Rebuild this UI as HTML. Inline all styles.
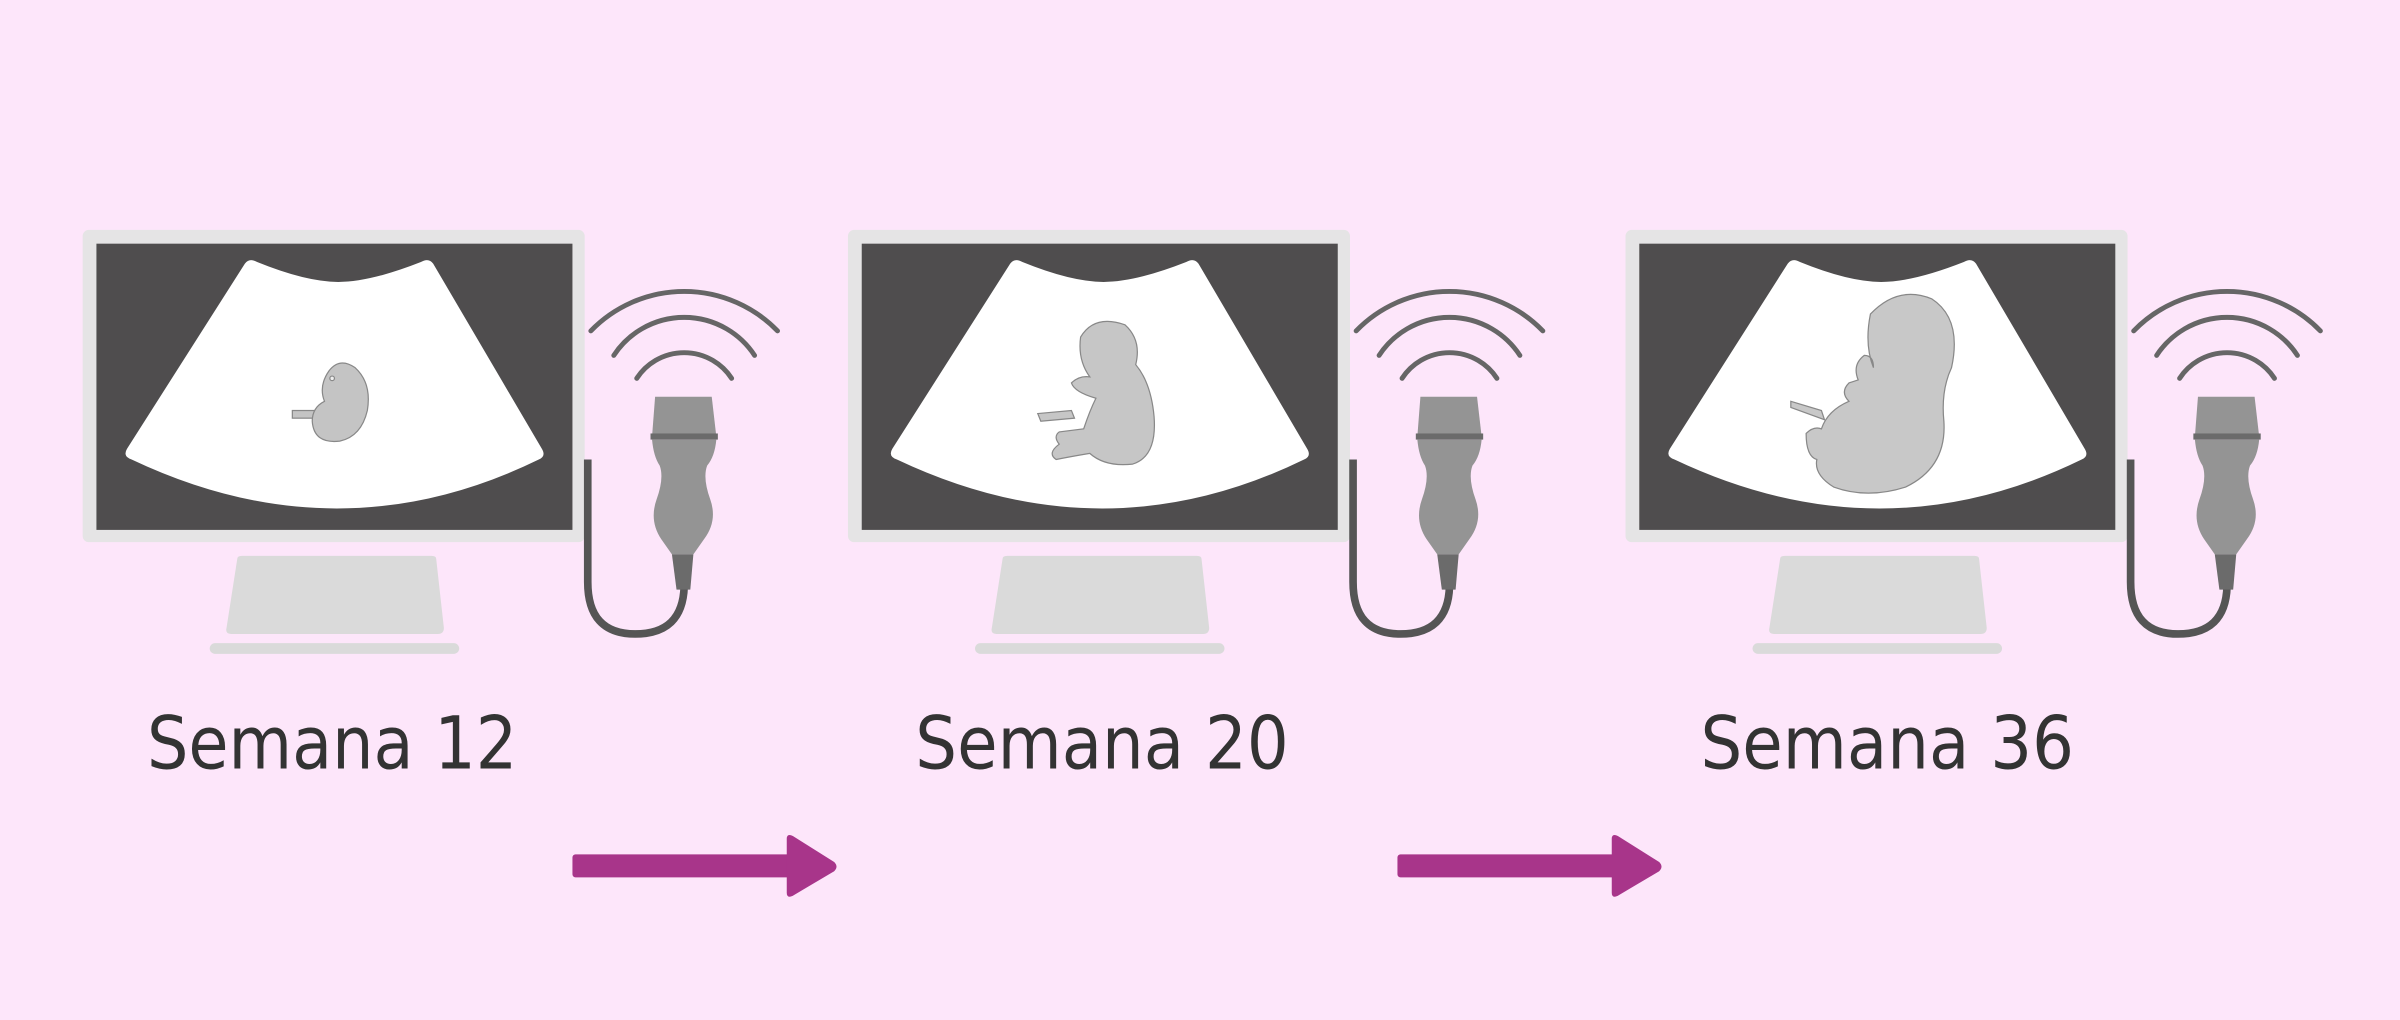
<!DOCTYPE html>
<html><head><meta charset="utf-8"><style>
html,body{margin:0;padding:0;background:#fde6fa;}
svg{display:block}
</style></head><body>
<svg width="2400" height="1020" viewBox="0 0 1568 666" xmlns="http://www.w3.org/2000/svg">
<rect width="1568" height="666" fill="#fde6fa"/>
<defs>
<g id="unit">
  <rect x="54" y="150" width="328" height="204" rx="4" fill="#e5e4e5"/>
  <rect x="63" y="159" width="311" height="187" fill="#4f4d4e"/>
  <path d="M160,172 Q163,168 168,171 Q200,184 221,184 Q242,184 275,171 Q280,168 283,172 L354,293 Q357,298 352,300 Q221,364 86,300 Q80,298 83,293 Z" fill="#fff"/>
  <path d="M155,365 Q155,363 158,363 L282,363 Q285,363 285,365 L290,410 Q290,414 286,414 L151,414 Q147,414 148,410 Z" fill="#dadada"/>
  <rect x="137" y="420" width="163" height="7" rx="3.5" fill="#dadada"/>
  <path d="M384,300 L384,380 Q384,414 415,414 Q446,414 447,383" fill="none" stroke="#555" stroke-width="5"/>
  <path d="M428,259 L465,259 L468,285 L426,285 Z" fill="#949494"/>
  <rect x="425" y="283" width="44" height="4" fill="#6b6b6b"/>
  <path d="M426,287 L468,287 Q467,298 462,304 Q459,312 464,326 Q469,340 460,352 L453,362 L439,362 L432,352 Q424,340 429,326 Q434,312 431,304 Q427,298 426,287 Z" fill="#949494"/>
  <path d="M439,362 L453,362 L451,385 L442,385 Z" fill="#6b6b6b"/>
  <g fill="none" stroke="#666" stroke-width="3.2" stroke-linecap="round">
    <path d="M386,216 A85,85 0 0 1 508,216"/>
    <path d="M401,232 A55,55 0 0 1 493,232"/>
    <path d="M416,247 A37,37 0 0 1 478,247"/>
  </g>
</g>
<g id="arrow">
  <rect x="0" y="558" width="145" height="15" rx="2" fill="#a8358a"/>
  <path d="M140,548 Q140,544 144,546 L171,563 Q174,566 171,569 L144,585 Q140,587 140,583 Z" fill="#a8358a"/>
</g>
</defs>
<use href="#unit"/>
<use href="#unit" transform="translate(500,0)"/>
<use href="#unit" transform="translate(1008,0)"/>
<g fill="#c4c4c4" stroke="#888" stroke-width="0.8">
  <rect x="191" y="268" width="18" height="5"/>
  <path d="M215,242 Q222,233 232,240 Q243,250 240,268 Q236,285 222,288 Q205,290 204,275 Q204,266 212,262 Q208,252 215,242 Z"/>
  <circle cx="217" cy="247" r="1.5" fill="#eee"/>
</g>
<g fill="#c6c6c6" stroke="#888" stroke-width="0.8">
  <path d="M678,270 L700,268 L702,273 L680,275 Z"/>
  <path d="M706,220 Q715,205 735,212 Q746,222 742,238 Q752,250 754,272 Q756,298 740,303 Q722,305 712,296 Q700,298 690,300 Q684,296 692,290 Q688,285 692,282 L708,280 Q712,268 716,260 Q702,256 700,250 Q705,245 712,246 Q704,235 706,220 Z"/>
</g>
<g fill="#c8c8c8" stroke="#888" stroke-width="0.8">
  <path d="M1170,262 L1190,268 L1192,274 L1170,266 Z"/>
  <path d="M1222,205 Q1240,186 1262,195 Q1282,208 1275,240 Q1268,255 1270,275 Q1272,305 1245,318 Q1220,326 1198,318 Q1185,310 1187,300 Q1180,298 1180,283 Q1185,278 1190,280 Q1194,268 1208,262 Q1202,256 1208,250 L1214,248 Q1210,238 1218,232 Q1224,232 1224,240 Q1218,225 1222,205 Z"/>
</g>
<use href="#arrow" transform="translate(374,0)"/>
<use href="#arrow" transform="translate(913,0)"/>
<g font-family="'DejaVu Sans','Liberation Sans',sans-serif" font-size="48" fill="#333" text-anchor="middle">
  <text x="217" y="502" textLength="242" lengthAdjust="spacingAndGlyphs">Semana 12</text>
  <text x="720" y="502" textLength="244" lengthAdjust="spacingAndGlyphs">Semana 20</text>
  <text x="1233" y="502" textLength="244" lengthAdjust="spacingAndGlyphs">Semana 36</text>
</g>
</svg>
</body></html>
